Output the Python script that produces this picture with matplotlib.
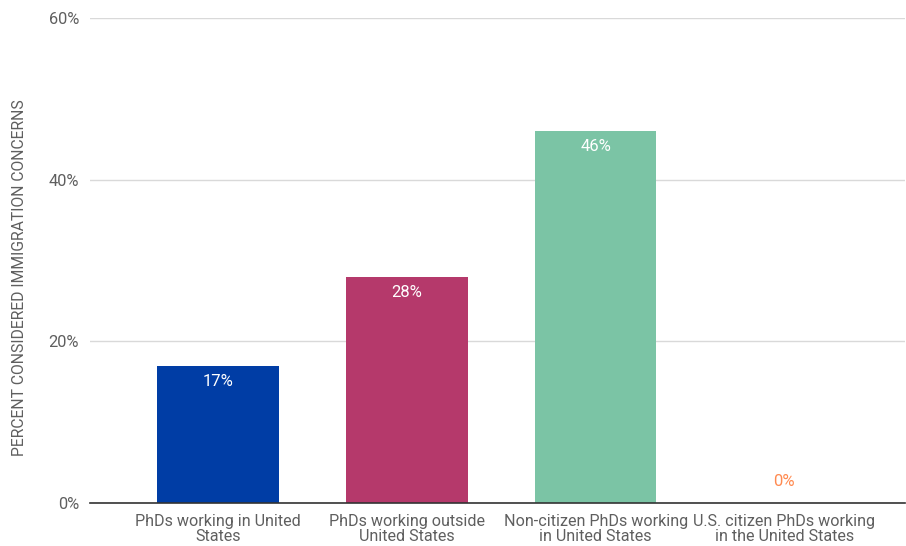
import matplotlib
matplotlib.use("Agg")
import matplotlib.pyplot as plt
from matplotlib.ticker import FuncFormatter

categories = [
    "PhDs working in United\nStates",
    "PhDs working outside\nUnited States",
    "Non-citizen PhDs working\nin United States",
    "U.S. citizen PhDs working\nin the United States",
]
values = [17, 28, 46, 0]
bar_colors = ["#003DA5", "#B5396B", "#7BC4A5", "#FF8A50"]
y_ticks = [0, 20, 40, 60]
y_label = "PERCENT CONSIDERED IMMIGRATION CONCERNS"

plt.rcParams["font.family"] = ["Roboto", "DejaVu Sans"]
text_gray = "#5f5f5f"

fig = plt.figure(figsize=(9.06, 5.46), dpi=100)
ax = fig.add_axes([90 / 906, 1 - 503 / 546, (905 - 90) / 906, (503 - 18) / 546])

x = list(range(len(categories)))
bars = ax.bar(x, values, width=0.645, color=bar_colors, zorder=3)

for xi, v, c in zip(x, values, bar_colors):
    if v > 0:
        ax.annotate(f"{v}%", (xi, v), xytext=(0, -6), textcoords="offset points",
                    ha="center", va="top", color="white", fontsize=12, zorder=4)
    else:
        ax.annotate(f"{v}%", (xi, v), xytext=(0, 10), textcoords="offset points",
                    ha="center", va="bottom", color=c, fontsize=12, zorder=4)

ax.set_xlim(-0.68, 3.64)
ax.set_ylim(0, 60)
ax.set_yticks(y_ticks)
ax.yaxis.set_major_formatter(FuncFormatter(lambda v, p: f"{v:.0f}%"))
ax.set_xticks(x)
ax.set_xticklabels(categories, fontsize=11.6, color=text_gray, linespacing=1.0)
ax.tick_params(axis="y", length=0, pad=8, labelsize=11.8, labelcolor=text_gray)
ax.tick_params(axis="x", length=0, pad=8)

ax.grid(axis="y", color="#d9d9d9", linewidth=1, zorder=0)
for s in ["top", "right", "left"]:
    ax.spines[s].set_visible(False)
ax.spines["bottom"].set_color("#333333")
ax.spines["bottom"].set_linewidth(1.2)
ax.spines["bottom"].set_zorder(5)

fig.text(20 / 906, 1 - 278 / 546, y_label, rotation=90, ha="center", va="center",
         fontsize=11.3, color=text_gray)

fig.savefig("out.png", dpi=100, facecolor="white")
